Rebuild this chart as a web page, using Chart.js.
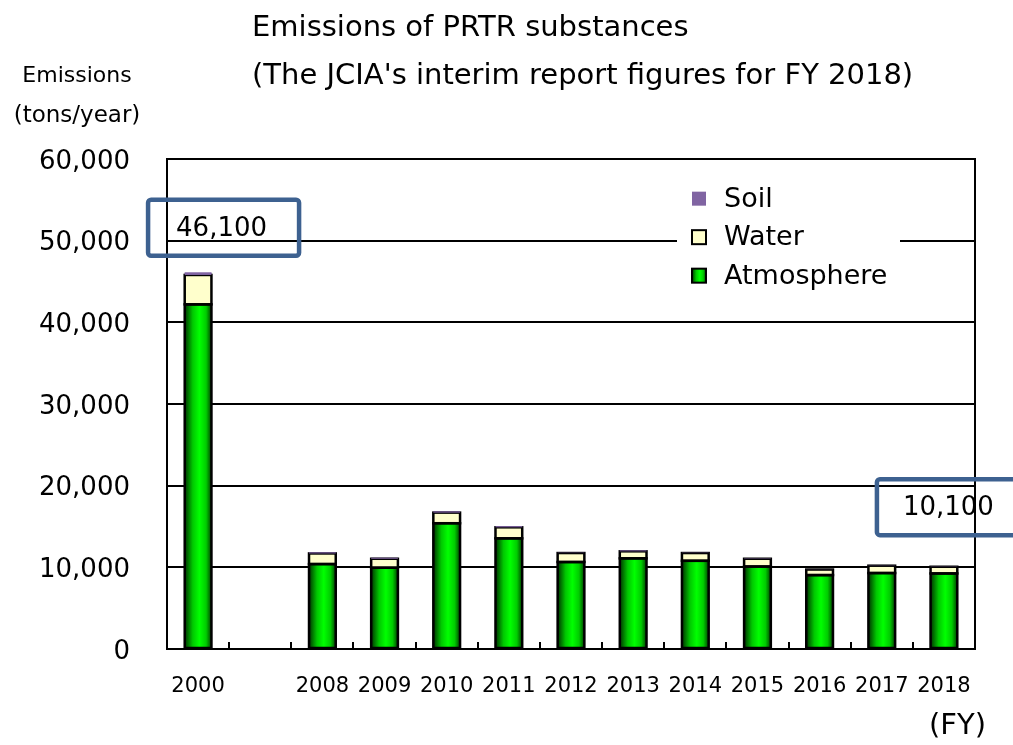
<!DOCTYPE html>
<html>
<head>
<meta charset="utf-8">
<script src="https://cdn.jsdelivr.net/npm/chart.js@4/dist/chart.umd.min.js"></script>
<style>
  html, body { margin: 0; padding: 0; background: #fff; }
  canvas { display: block; }
</style>
</head>
<body>
<canvas id="myChart" width="1013" height="745"></canvas>
<script>
// categories (the empty one is the gap between 2000 and 2008)
var categories = ["2000", "", "2008", "2009", "2010", "2011", "2012", "2013", "2014", "2015", "2016", "2017", "2018"];

// emissions, tons/year
var atmosphere = [42200, null, 10400, 9950, 15400, 13550, 10650, 11100, 10800, 10100, 9050, 9300, 9250];
var water = [3600, null, 1300, 1100, 1300, 1350, 1100, 860, 950, 950, 680, 900, 820];
var soil = [300, null, 140, 120, 150, 150, 40, 120, 40, 50, 20, 30, 30];

var yTicks = [0, 10000, 20000, 30000, 40000, 50000, 60000];

var titleLines = ["Emissions of PRTR substances", "(The JCIA's interim report figures for FY 2018)"];
var yTitleLines = ["Emissions", "(tons/year)"];
var xTitle = "(FY)";

var FONT = "'DejaVu Sans', Verdana, sans-serif";
var BAR_PCT = 0.43;

function total(i) {
    return (atmosphere[i] || 0) + (water[i] || 0) + (soil[i] || 0);
}
function fmt(v) {
    return (Math.round(v / 100) * 100).toLocaleString("en-US");
}

function greenGradient(c, x0, x1) {
    var g = c.createLinearGradient(x0, 0, x1, 0);
    g.addColorStop(0, "#003300");
    g.addColorStop(0.3, "#00c800");
    g.addColorStop(0.55, "#00ff00");
    g.addColorStop(0.8, "#00cc00");
    g.addColorStop(1, "#004000");
    return g;
}

function atmoFill(context) {
    var chart = context.chart;
    var xs = chart.scales.x;
    if (!xs || context.dataIndex === undefined || !xs.width) return "#00ff00";
    var cx = xs.getPixelForValue(context.dataIndex);
    var w = xs.width / categories.length * BAR_PCT;
    return greenGradient(chart.ctx, cx - w / 2, cx + w / 2);
}

// outlines centred on the bar edges (like the original), soil drawn on top again
var outlinePlugin = {
    id: "outline",
    afterDatasetsDraw: function (chart) {
        var c = chart.ctx;
        c.save();
        c.strokeStyle = "#000";
        c.lineWidth = 2.5;
        [0, 1].forEach(function (di) {
            var vals = chart.data.datasets[di].data;
            chart.getDatasetMeta(di).data.forEach(function (el, idx) {
                if (vals[idx] == null) return;
                c.strokeRect(el.x - el.width / 2, el.y, el.width, el.base - el.y);
            });
        });
        c.restore();
        chart.getDatasetMeta(2).data.forEach(function (el, idx) {
            if (soil[idx] != null) el.draw(c);
        });
    }
};

// frame, inner ticks, titles, legend and the two value boxes
var decorPlugin = {
    id: "decor",
    beforeDatasetsDraw: function (chart) {
        var c = chart.ctx, a = chart.chartArea;
        c.save();
        c.strokeStyle = "#000";
        c.lineWidth = 2;
        c.strokeRect(a.left, a.top, a.right - a.left, a.bottom - a.top);
        // short ticks pointing up at category boundaries
        var step = (a.right - a.left) / categories.length;
        for (var i = 1; i < categories.length; i++) {
            var x = Math.round(a.left + step * i);
            c.beginPath();
            c.moveTo(x, a.bottom);
            c.lineTo(x, a.bottom - 7);
            c.stroke();
        }
        c.restore();
    },
    afterDraw: function (chart) {
        var c = chart.ctx, a = chart.chartArea, xs = chart.scales.x, ys = chart.scales.y;
        c.save();
        c.fillStyle = "#000";
        c.textBaseline = "middle";

        // titles
        c.font = "29px " + FONT;
        c.textAlign = "left";
        c.fillText(titleLines[0], 252, 28);
        c.fillText(titleLines[1], 252, 76);

        c.font = "22px " + FONT;
        c.textAlign = "center";
        c.fillText(yTitleLines[0], 77, 76);
        c.font = "23px " + FONT;
        c.fillText(yTitleLines[1], 77, 116);

        c.font = "29px " + FONT;
        c.textAlign = "right";
        c.fillText(xTitle, 986, 726);

        // legend
        var lx = a.right - 298, ly = ys.getPixelForValue(50000) - 62;
        c.fillStyle = "#fff";
        c.fillRect(lx, ly, 223, 118);
        var rows = chart.data.datasets.slice().reverse();
        c.font = "27px " + FONT;
        c.textAlign = "left";
        rows.forEach(function (ds, k) {
            var cy = ly + 20 + k * 38.5;
            var mx = lx + 15;
            if (ds.label === "Atmosphere") {
                c.fillStyle = greenGradient(c, mx, mx + 14);
            } else {
                c.fillStyle = ds.legendColor;
            }
            c.fillRect(mx, cy - 7, 14, 14);
            if (ds.label !== "Soil") {
                c.strokeStyle = "#000";
                c.lineWidth = 2;
                c.strokeRect(mx, cy - 7, 14, 14);
            }
            c.fillStyle = "#000";
            c.fillText(ds.label, lx + 47, cy + 1);
        });

        // value boxes for first and last year
        var boxes = [
            { i: 0, left: xs.getPixelForValue(0) - 50, top: ys.getPixelForValue(55000), w: 151, tx: 28 },
            { i: categories.length - 1, left: xs.getPixelForValue(categories.length - 1) - 67, top: ys.getPixelForValue(20800), w: 150, tx: 26 }
        ];
        boxes.forEach(function (b) {
            c.strokeStyle = "#3d6190";
            c.lineWidth = 4.5;
            c.beginPath();
            c.roundRect(b.left, b.top, b.w, 56, 3);
            c.stroke();
            c.fillStyle = "#000";
            c.font = "26px " + FONT;
            c.textAlign = "left";
            c.fillText(fmt(total(b.i)), b.left + b.tx, b.top + 29);
        });
        c.restore();
    }
};

var ctx = document.getElementById("myChart");
var chart = new Chart(ctx, {
    type: "bar",
    data: {
        labels: categories,
        datasets: [{
            label: "Atmosphere",
            data: atmosphere,
            backgroundColor: atmoFill,
            borderWidth: 0,
            legendColor: "#00ff00"
        }, {
            label: "Water",
            data: water,
            backgroundColor: "#ffffcc",
            borderWidth: 0,
            legendColor: "#ffffcc"
        }, {
            label: "Soil",
            data: soil,
            backgroundColor: "#8064a2",
            borderWidth: 0,
            legendColor: "#8064a2"
        }]
    },
    options: {
        responsive: false,
        animation: false,
        devicePixelRatio: 1,
        barPercentage: BAR_PCT,
        categoryPercentage: 1,
        layout: { padding: { top: 159, right: 38, left: 0, bottom: 0 } },
        plugins: {
            legend: { display: false },
            title: { display: false },
            tooltip: { enabled: false }
        },
        scales: {
            x: {
                stacked: true,
                grid: { display: false, drawTicks: false },
                border: { display: true, color: "#000", width: 2 },
                ticks: {
                    color: "#000",
                    font: { family: FONT, size: 21 },
                    padding: 25,
                    maxRotation: 0,
                    autoSkip: false
                },
                afterFit: function (s) { s.height = 96; }
            },
            y: {
                stacked: true,
                min: 0,
                max: 60000,
                afterBuildTicks: function (s) {
                    s.ticks = yTicks.map(function (v) { return { value: v }; });
                },
                grid: { color: "#000", lineWidth: 2, drawTicks: false },
                border: { display: true, color: "#000", width: 2 },
                ticks: {
                    color: "#000",
                    font: { family: FONT, size: 26 },
                    padding: 37,
                    labelOffset: 3,
                    callback: function (v) { return v.toLocaleString("en-US"); }
                },
                afterFit: function (s) { s.width = 167; }
            }
        }
    },
    plugins: [outlinePlugin, decorPlugin]
});
</script>
</body>
</html>
